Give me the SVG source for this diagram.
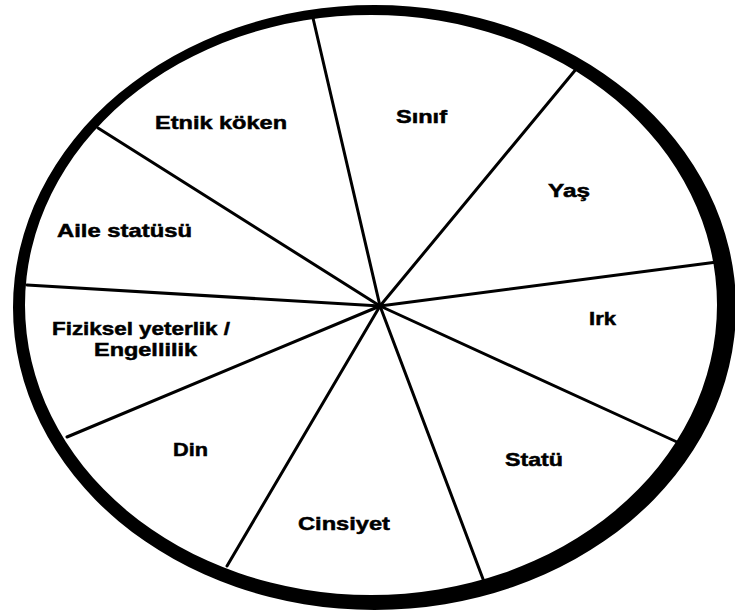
<svg xmlns="http://www.w3.org/2000/svg" width="735" height="614" viewBox="0 0 735 614">
<style>
.lbl{font-family:"Liberation Sans",Arial,sans-serif;font-weight:bold;font-size:18.5px;fill:#000;stroke:#000;stroke-width:0.5}
.spoke{stroke:#000;stroke-width:3;stroke-linecap:round}
</style>
<rect width="735" height="614" fill="#fff"/>
<g id="connectors">
<line class="spoke" x1="380" y1="306" x2="313" y2="18"/>
<line class="spoke" x1="380" y1="306" x2="577" y2="68"/>
<line class="spoke" x1="380" y1="306" x2="717" y2="262"/>
<line class="spoke" x1="380" y1="306" x2="677" y2="442"/>
<line class="spoke" x1="380" y1="306" x2="483" y2="579"/>
<line class="spoke" x1="380" y1="306" x2="227" y2="566"/>
<line class="spoke" x1="380" y1="306" x2="67" y2="437"/>
<line class="spoke" x1="380" y1="306" x2="27" y2="285"/>
<line class="spoke" x1="380" y1="306" x2="98" y2="128"/>
</g>
<g id="ring">
<path fill="#000" fill-rule="evenodd" d="M13 307.5A361.5 302.5 0 1 0 736 307.5A361.5 302.5 0 1 0 13 307.5Z M25 305A346 290 0 1 0 717 305A346 290 0 1 0 25 305Z"/>
</g>
<g id="etnik-koken"><text class="lbl" x="155" y="129" textLength="132" lengthAdjust="spacingAndGlyphs">Etnik köken</text></g>
<g id="sinif"><text class="lbl" x="396" y="123" textLength="51" lengthAdjust="spacingAndGlyphs">Sınıf</text></g>
<g id="yas"><text class="lbl" x="548" y="197" textLength="42" lengthAdjust="spacingAndGlyphs">Yaş</text></g>
<g id="irk"><text class="lbl" x="589" y="325" textLength="27" lengthAdjust="spacingAndGlyphs">Irk</text></g>
<g id="statu"><text class="lbl" x="505" y="466" textLength="58" lengthAdjust="spacingAndGlyphs">Statü</text></g>
<g id="cinsiyet"><text class="lbl" x="298" y="530" textLength="92" lengthAdjust="spacingAndGlyphs">Cinsiyet</text></g>
<g id="din"><text class="lbl" x="173" y="456" textLength="35" lengthAdjust="spacingAndGlyphs">Din</text></g>
<g id="fiziksel"><text class="lbl" x="52" y="335" textLength="178" lengthAdjust="spacingAndGlyphs">Fiziksel yeterlik /</text><text class="lbl" x="94" y="356" textLength="103" lengthAdjust="spacingAndGlyphs">Engellilik</text></g>
<g id="aile-statusu"><text class="lbl" x="57" y="237" textLength="135" lengthAdjust="spacingAndGlyphs">Aile statüsü</text></g>
</svg>
